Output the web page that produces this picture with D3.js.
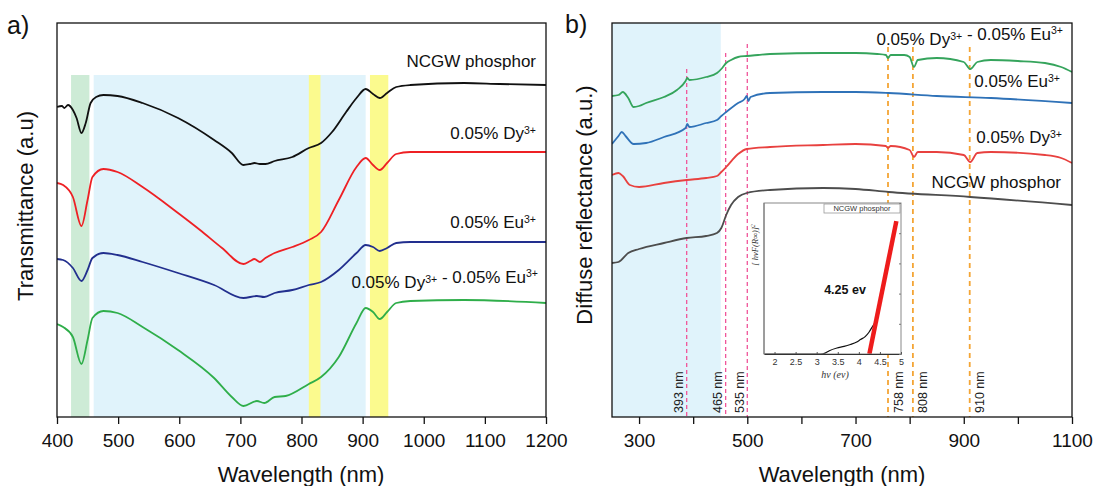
<!DOCTYPE html>
<html>
<head>
<meta charset="utf-8">
<script src="https://cdn.jsdelivr.net/npm/d3@7"></script>
<style>
body { margin: 0; background: #fff; }
svg { font-family: "Liberation Sans", Arial, sans-serif; }
</style>
</head>
<body>
<script>
// ---- panel a : transmittance (a.u., curves stacked) ----
var ticksA = [400, 500, 600, 700, 800, 900, 1000, 1100, 1200];
var bandsA = [[423, 453, "green"], [460, 905, "blue"], [812, 831, "yellow"], [912, 942, "yellow"]];
var bandTopA = 342;

var transNCGW = [[400,310],[408,311],[412,309],[418,312],[426,307],[432,299],[440,284],[447,294],[455,314],[464,320],[476,322],[499,321],[540,314],[598,299],[657,277],[686,264],[705,252],[716,253],[723,254],[732,253],[741,253],[756,256],[785,260],[812,269],[832,274],[850,285],[873,305],[890,319],[905,328],[917,323],[928,319],[940,324],[955,330],[978,332],[1066,334],[1124,333],[1200,332]];
var transDy = [[400,234],[410,232],[426,220],[440,191],[450,217],[458,240],[476,248],[499,245],[540,230],[598,204],[634,187],[670,169],[705,153],[716,156],[723,158],[732,155],[741,159],[756,164],[785,170],[812,177],[832,185],[861,217],[890,250],[905,259],[917,252],[928,247],[940,254],[955,263],[978,265],[1100,265],[1200,265]];
var transEu = [[400,158],[410,157],[426,149],[440,136],[450,147],[458,159],[476,164],[499,162],[540,155],[598,144],[657,132],[705,119],[727,121],[739,120],[756,124],[785,127],[812,132],[832,135],[861,147],[890,164],[905,172],[917,170],[928,166],[940,169],[955,174],[978,175],[1100,175],[1200,175]];
var transDyEu = [[400,93],[410,90],[426,80],[440,53],[450,77],[458,99],[476,106],[499,104],[540,90],[598,67],[657,39],[686,20],[705,11],[727,16],[739,14],[756,20],[774,21],[812,33],[832,40],[861,60],[890,94],[905,109],[917,105],[928,98],[940,105],[955,114],[978,116],[1066,117],[1200,114]];

// ---- panel b : diffuse reflectance (a.u., curves stacked) ----
var ticksB = [300, 400, 500, 600, 700, 800, 900, 1000, 1100];
var bandB = [250, 451];
var reflDyEu = [[250,321],[262,322],[270,325],[280,319],[290,310],[300,311],[313,314],[346,320],[370,327],[386,336],[389,339],[393,337],[424,340],[444,344],[452,348],[461,354],[470,357],[483,360],[499,361],[520,362],[542,363],[640,364],[700,364],[740,363],[756,362],[760,359],[765,362],[790,362],[800,360],[808,350],[815,357],[850,359],[900,355],[912,348],[925,355],[950,357],[1000,356],[1050,354],[1080,350],[1100,345]];
var reflEu = [[250,273],[262,281],[268,285],[275,281],[290,273],[313,274],[346,280],[386,289],[389,293],[393,290],[424,294],[444,297],[452,301],[461,305],[483,314],[495,318],[499,321],[502,316],[506,320],[542,324],[640,325],[700,325],[761,324],[850,321],[950,319],[1100,314]];
var reflDy = [[250,242],[262,244],[270,241],[283,232],[300,230],[346,234],[388,237],[424,239],[444,241],[452,245],[461,250],[483,263],[499,268],[542,270],[640,272],[700,273],[756,271],[760,269],[765,271],[800,267],[808,260],[815,265],[850,265],[900,262],[912,255],[925,264],[950,265],[1050,262],[1080,259],[1100,254]];
var reflNCGW = [[250,154],[262,155],[280,164],[300,168],[346,174],[388,179],[424,181],[444,184],[452,189],[461,202],[470,212],[483,220],[499,224],[542,227],[640,229],[700,228],[761,225],[912,220],[1100,212]];

// marker lines: drawn position, top value, printed label
var markWl = [388, 460, 500, 760, 806, 911];
var markTop = [348, 364, 373, 370, 370, 370];
var markLabel = ["393 nm", "465 nm", "535 nm", "758 nm", "808 nm", "910 nm"];

// ---- inset : Tauc plot ----
var insetTicks = [2, 2.5, 3, 3.5, 4, 4.5, 5];
var taucCurve = [[1.75,0],[3.1,0],[3.2,0.006],[3.3,0.022],[3.48,0.04],[3.65,0.05],[3.8,0.063],[3.95,0.08],[4.04,0.096],[4.15,0.115],[4.24,0.144],[4.32,0.18],[4.38,0.206]];
var taucFit = [[4.25,0],[4.89,0.88]];

var W = 1094, H = 486;
var svg = d3.select("body").append("svg").attr("width", W).attr("height", H);

var bandColor = { green: "#cdebd6", blue: "#e0f3fb", yellow: "#fbfa8e" };

function rich(sel, str) {
  // "Dy^{3+}" -> superscript tspans
  var parts = str.split(/(\^\{[^}]*\})/);
  parts.forEach(function(p) {
    if (!p) return;
    if (p[0] === "^") {
      sel.append("tspan").attr("font-size", "0.62em").attr("dy", "-0.5em").text(p.slice(2, -1));
      sel.append("tspan").attr("dy", "0.31em").text("");
    } else {
      sel.append("tspan").text(p);
    }
  });
}

function panel(g, x, y, clipId) {
  g.append("clipPath").attr("id", clipId).append("rect")
    .attr("x", x.range()[0]).attr("y", y.range()[1])
    .attr("width", x.range()[1] - x.range()[0]).attr("height", y.range()[0] - y.range()[1]);
}

// ================= panel a =================
var xA = d3.scaleLinear().domain([400, 1200]).range([57, 546]);
var yA = d3.scaleLinear().domain([0, 394]).range([417, 23]);
var gA = svg.append("g");
panel(gA, xA, yA, "clipA");

gA.selectAll("rect.band").data(bandsA).enter().append("rect")
  .attr("class", "band")
  .attr("x", function(d) { return xA(d[0]); })
  .attr("width", function(d) { return xA(d[1]) - xA(d[0]); })
  .attr("y", yA(bandTopA))
  .attr("height", yA(0) - yA(bandTopA))
  .attr("fill", function(d) { return bandColor[d[2]]; });

var lineA = d3.line().x(function(d) { return xA(d[0]); }).y(function(d) { return yA(d[1]); }).curve(d3.curveMonotoneX);
var seriesA = [[transNCGW, "#111111"], [transDy, "#ee2024"], [transEu, "#222f8e"], [transDyEu, "#2fae4a"]];
gA.selectAll("path.curve").data(seriesA).enter().append("path")
  .attr("class", "curve")
  .attr("clip-path", "url(#clipA)")
  .attr("d", function(d) { return lineA(d[0]); })
  .attr("fill", "none")
  .attr("stroke", function(d) { return d[1]; })
  .attr("stroke-width", 1.8);

gA.append("rect").attr("x", 57).attr("y", 23).attr("width", 489).attr("height", 394)
  .attr("fill", "none").attr("stroke", "#111").attr("stroke-width", 1.3);

var axA = gA.append("g").attr("transform", "translate(0,417)")
  .call(d3.axisBottom(xA).tickValues(ticksA).tickSize(7).tickPadding(10).tickFormat(function(d) { return String(d); }));
axA.select(".domain").remove();
axA.selectAll("line").attr("stroke", "#111").attr("stroke-width", 1.3);
axA.selectAll("text").attr("font-size", 19).attr("fill", "#111").attr("font-family", "Liberation Sans, Arial, sans-serif");

var labA = [["NCGW phosphor", 536, 61], ["0.05% Dy^{3+}", 536, 133], ["0.05% Eu^{3+}", 536, 222], ["0.05% Dy^{3+} - 0.05% Eu^{3+}", 538, 282]];
labA.forEach(function(l) {
  var t = gA.append("text").attr("x", l[1]).attr("y", l[2] + 6).attr("text-anchor", "end")
    .attr("font-size", 17).attr("fill", "#111");
  rich(t, l[0]);
});

gA.append("text").attr("x", 301).attr("y", 482).attr("text-anchor", "middle").attr("font-size", 22).attr("fill", "#111").text("Wavelength (nm)");
gA.append("text").attr("transform", "translate(33,206) rotate(-90)").attr("text-anchor", "middle").attr("font-size", 22).attr("fill", "#111").text("Transmittance (a.u)");
gA.append("text").attr("x", 7).attr("y", 34).attr("font-size", 25).attr("fill", "#111").text("a)");

// ================= panel b =================
var xB = d3.scaleLinear().domain([250, 1100]).range([612, 1072]);
var yB = d3.scaleLinear().domain([0, 394]).range([417, 23]);
var gB = svg.append("g");
panel(gB, xB, yB, "clipB");

gB.append("rect").attr("x", xB(bandB[0])).attr("width", xB(bandB[1]) - xB(bandB[0]))
  .attr("y", yB(394)).attr("height", yB(0) - yB(394)).attr("fill", bandColor.blue);

var marks = markWl.map(function(w, i) { return { wl: w, top: markTop[i], label: markLabel[i], pink: i < 3 }; });
gB.selectAll("line.mark").data(marks).enter().append("line")
  .attr("class", "mark")
  .attr("x1", function(d) { return xB(d.wl); }).attr("x2", function(d) { return xB(d.wl); })
  .attr("y1", function(d) { return yB(d.top); }).attr("y2", yB(0))
  .attr("stroke", function(d) { return d.pink ? "#f0559a" : "#f4a535"; })
  .attr("stroke-width", function(d) { return d.pink ? 1.3 : 1.8; })
  .attr("stroke-dasharray", function(d) { return d.pink ? "4,3" : "5,4"; });

gB.selectAll("text.mark").data(marks).enter().append("text")
  .attr("class", "mark")
  .attr("transform", function(d) { return "translate(" + (xB(d.wl) + (d.pink ? -8 : 10)) + ",413) rotate(-90)"; })
  .attr("dy", "0.36em").attr("font-size", 12.5).attr("fill", "#222")
  .text(function(d) { return d.label; });

var lineB = d3.line().x(function(d) { return xB(d[0]); }).y(function(d) { return yB(d[1]); }).curve(d3.curveMonotoneX);
var seriesB = [[reflDyEu, "#35a45c"], [reflEu, "#2f72b8"], [reflDy, "#e8413f"], [reflNCGW, "#4d4d4d"]];
gB.selectAll("path.curve").data(seriesB).enter().append("path")
  .attr("class", "curve")
  .attr("clip-path", "url(#clipB)")
  .attr("d", function(d) { return lineB(d[0]); })
  .attr("fill", "none")
  .attr("stroke", function(d) { return d[1]; })
  .attr("stroke-width", 1.8);

gB.append("rect").attr("x", 612).attr("y", 23).attr("width", 460).attr("height", 394)
  .attr("fill", "none").attr("stroke", "#111").attr("stroke-width", 1.3);

var axB = gB.append("g").attr("transform", "translate(0,417)")
  .call(d3.axisBottom(xB).tickValues(ticksB).tickSize(7).tickPadding(10)
    .tickFormat(function(d) { return d % 200 === 100 ? String(d) : ""; }));
axB.select(".domain").remove();
axB.selectAll("line").attr("stroke", "#111").attr("stroke-width", 1.3);
axB.selectAll("text").attr("font-size", 19).attr("fill", "#111").attr("font-family", "Liberation Sans, Arial, sans-serif");

var labB = [["0.05% Dy^{3+} - 0.05% Eu^{3+}", 1063, 39], ["0.05% Eu^{3+}", 1060, 81], ["0.05% Dy^{3+}", 1062, 137], ["NCGW phosphor", 1061, 182]];
labB.forEach(function(l) {
  var t = gB.append("text").attr("x", l[1]).attr("y", l[2] + 6).attr("text-anchor", "end")
    .attr("font-size", 17).attr("fill", "#111");
  rich(t, l[0]);
});

gB.append("text").attr("x", 842).attr("y", 482).attr("text-anchor", "middle").attr("font-size", 22).attr("fill", "#111").text("Wavelength (nm)");
gB.append("text").attr("transform", "translate(592,205) rotate(-90)").attr("text-anchor", "middle").attr("font-size", 22).attr("fill", "#111").text("Diffuse reflectance (a.u.)");
gB.append("text").attr("x", 565).attr("y", 33).attr("font-size", 25).attr("fill", "#111").text("b)");

// ================= inset =================
var xI = d3.scaleLinear().domain([1.75, 5]).range([764, 901]);
var yI = d3.scaleLinear().domain([0, 1]).range([354, 203]);
var gI = svg.append("g");
gI.append("rect").attr("x", 764).attr("y", 203).attr("width", 137).attr("height", 151).attr("fill", "#fff");
gI.append("clipPath").attr("id", "clipI").append("rect").attr("x", 764).attr("y", 203).attr("width", 137).attr("height", 151);

var lineI = d3.line().x(function(d) { return xI(d[0]); }).y(function(d) { return yI(d[1]); }).curve(d3.curveMonotoneX);
gI.append("path").attr("d", lineI(taucCurve)).attr("fill", "none").attr("stroke", "#111").attr("stroke-width", 1.2).attr("clip-path", "url(#clipI)");
gI.append("path").attr("d", d3.line().x(function(d) { return xI(d[0]); }).y(function(d) { return yI(d[1]); })(taucFit))
  .attr("fill", "none").attr("stroke", "#ee1c1c").attr("stroke-width", 4.5).attr("clip-path", "url(#clipI)");

gI.append("rect").attr("x", 764).attr("y", 203).attr("width", 137).attr("height", 151)
  .attr("fill", "none").attr("stroke", "#888").attr("stroke-width", 1);

var axI = gI.append("g").attr("transform", "translate(0,354)")
  .call(d3.axisBottom(xI).tickValues(insetTicks).tickSizeInner(-2).tickSizeOuter(0).tickPadding(5)
    .tickFormat(function(d) { return String(d); }));
axI.select(".domain").attr("stroke", "#333");
axI.selectAll("line").attr("stroke", "#555");
axI.selectAll("text").attr("font-size", 9).attr("fill", "#333").attr("font-family", "Liberation Sans, Arial, sans-serif");

var axIR = gI.append("g").attr("transform", "translate(901,0)")
  .call(d3.axisLeft(yI).ticks(6).tickSize(2).tickFormat(""));
axIR.select(".domain").remove();
axIR.selectAll("line").attr("stroke", "#777");

gI.append("line").attr("x1", 764).attr("x2", 764).attr("y1", 203).attr("y2", 354).attr("stroke", "#777");

gI.append("rect").attr("x", 824).attr("y", 204).attr("width", 76).attr("height", 9).attr("fill", "#fff").attr("stroke", "#999").attr("stroke-width", 0.8);
gI.append("text").attr("x", 862).attr("y", 211.3).attr("text-anchor", "middle").attr("font-size", 7.5).attr("fill", "#333").text("NCGW phosphor");

gI.append("text").attr("x", 845).attr("y", 294).attr("text-anchor", "middle").attr("font-size", 12.5).attr("font-weight", "bold").attr("fill", "#111").text("4.25 ev");

gI.append("text").attr("x", 835).attr("y", 378).attr("text-anchor", "middle")
  .attr("font-family", "Liberation Serif, DejaVu Serif, serif").attr("font-style", "italic").attr("font-size", 10).attr("fill", "#333").text("hν (ev)");
var yt = gI.append("text").attr("transform", "translate(758,245) rotate(-90)").attr("text-anchor", "middle")
  .attr("font-family", "Liberation Serif, DejaVu Serif, serif").attr("font-style", "italic").attr("font-size", 8.5).attr("fill", "#333");
rich(yt, "[ hνF(R∞)]^{2}");
</script>
</body>
</html>
